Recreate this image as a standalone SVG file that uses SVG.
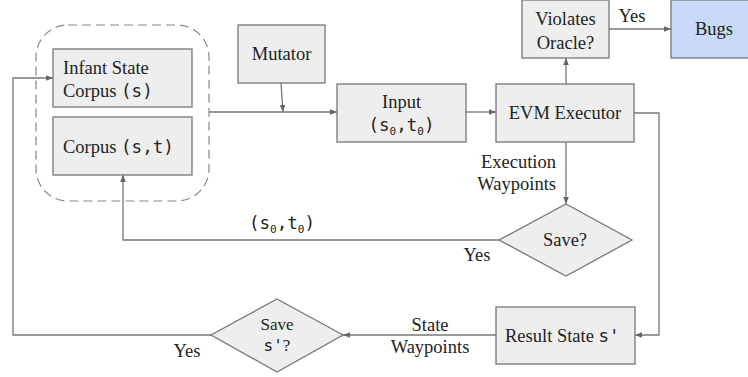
<svg xmlns="http://www.w3.org/2000/svg" width="748" height="377" viewBox="0 0 748 377">
<style>
.box{fill:#eeeeee;stroke:#777;stroke-width:1.3}
.bug{fill:#c9daf8;stroke:#777;stroke-width:1.3}
.t{font-family:"Liberation Serif","Times New Roman",serif;font-size:18.5px;fill:#222}
.m{font-family:"DejaVu Sans Mono","Liberation Mono",monospace;font-size:17.5px}
.sub{font-size:11px}
.c{text-anchor:middle}
.e{text-anchor:end}
.ln{fill:none;stroke:#777;stroke-width:1.3;marker-end:url(#ah)}
</style>
<defs>
<marker id="ah" viewBox="0 0 10 10" refX="10" refY="5" markerWidth="7" markerHeight="7" markerUnits="userSpaceOnUse" orient="auto">
<path d="M0,1 L10,5 L0,9 Z" fill="#666"/>
</marker>
</defs>
<rect width="748" height="377" fill="#fff"/>
<g id="connectors">
<path class="ln" d="M211,335 H13 V78 H53"/>
<path class="ln" d="M499,240 H123 V175"/>
<path class="ln" d="M209,112 H337"/>
<path class="ln" d="M281,83 L283,112"/>
<path class="ln" d="M466,112 H496"/>
<path class="ln" d="M566,84 V58"/>
<path class="ln" d="M609,29 H671"/>
<path class="ln" d="M566,142 V204"/>
<path class="ln" d="M634,113 H659 V335 H635"/>
<path class="ln" d="M496,335 H343"/>
<text class="t c" x="632" y="22">Yes</text>
<text class="t e" x="556" y="168">Execution</text>
<text class="t e" x="556" y="190">Waypoints</text>
<text class="t c" x="477" y="261">Yes</text>
<text class="t m c" x="282" y="229">(s<tspan class="sub" dy="4">0</tspan><tspan dy="-4">,t</tspan><tspan class="sub" dy="4">0</tspan><tspan dy="-4">)</tspan></text>
<text class="t c" x="430" y="331">State</text>
<text class="t c" x="430" y="353">Waypoints</text>
<text class="t c" x="187" y="357">Yes</text>
</g>
<g id="corpus-group">
<rect x="36" y="25" width="173" height="176" rx="32" fill="none" stroke="#888" stroke-width="1.2" stroke-dasharray="9,5"/>
</g>
<g id="infant-corpus">
<rect class="box" x="53" y="49" width="139" height="58"/>
<text class="t" x="63" y="74">Infant State</text>
<text class="t" x="63" y="97">Corpus <tspan class="m">(s)</tspan></text>
</g>
<g id="corpus">
<rect class="box" x="53" y="117" width="139" height="58"/>
<text class="t" x="63" y="153">Corpus <tspan class="m">(s,t)</tspan></text>
</g>
<g id="mutator">
<rect class="box" x="238" y="25" width="87" height="58"/>
<text class="t c" x="281.5" y="60">Mutator</text>
</g>
<g id="input">
<rect class="box" x="337" y="84" width="129" height="58"/>
<text class="t c" x="401.5" y="108">Input</text>
<text class="t m c" x="401.5" y="131">(s<tspan class="sub" dy="4">0</tspan><tspan dy="-4">,t</tspan><tspan class="sub" dy="4">0</tspan><tspan dy="-4">)</tspan></text>
</g>
<g id="evm">
<rect class="box" x="496" y="84" width="138" height="58"/>
<text class="t c" x="565" y="119">EVM Executor</text>
</g>
<g id="oracle">
<rect class="box" x="522" y="0" width="87" height="58"/>
<text class="t c" x="565.5" y="25">Violates</text>
<text class="t c" x="565.5" y="49">Oracle?</text>
</g>
<g id="bugs">
<rect class="bug" x="671" y="0" width="86" height="58"/>
<text class="t c" x="714" y="35">Bugs</text>
</g>
<g id="save">
<path class="box" d="M566,204 L632,240 L566,276 L499,240 Z"/>
<text class="t c" x="565" y="246">Save?</text>
</g>
<g id="result">
<rect class="box" x="496" y="307" width="139" height="57"/>
<text class="t" x="505" y="342">Result State <tspan class="m">s'</tspan></text>
</g>
<g id="save-s">
<path class="box" d="M277,299 L343,335 L277,372 L211,335 Z"/>
<text class="t c" x="277" y="330" style="font-size:17px">Save</text>
<text class="t c" x="277" y="351" style="font-size:17px"><tspan class="m" style="font-size:16px">s'</tspan>?</text>
</g>
</svg>
